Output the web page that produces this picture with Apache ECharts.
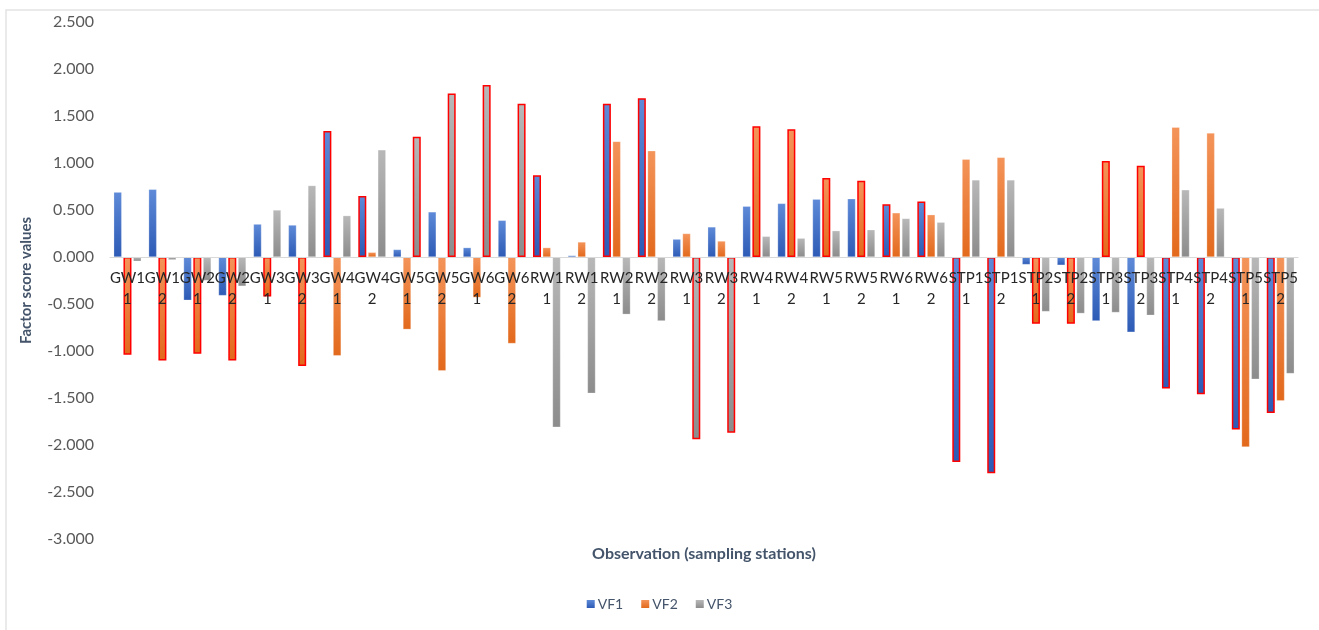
<!DOCTYPE html>
<html>
<head>
<meta charset="utf-8">
<script src="https://cdn.jsdelivr.net/npm/echarts@6/dist/echarts.min.js"></script>
<style>
  html, body { margin: 0; padding: 0; background: #fff; }
  #chart { width: 1319px; height: 630px; }
</style>
</head>
<body>
<div id="chart"></div>
<script>
// Sampling stations (station + campaign)
const categories = [
  'GW1 1', 'GW1 2', 'GW2 1', 'GW2 2', 'GW3 1', 'GW3 2', 'GW4 1', 'GW4 2',
  'GW5 1', 'GW5 2', 'GW6 1', 'GW6 2', 'RW1 1', 'RW1 2', 'RW2 1', 'RW2 2',
  'RW3 1', 'RW3 2', 'RW4 1', 'RW4 2', 'RW5 1', 'RW5 2', 'RW6 1', 'RW6 2',
  'STP1 1', 'STP1 2', 'STP2 1', 'STP2 2', 'STP3 1', 'STP3 2', 'STP4 1', 'STP4 2',
  'STP5 1', 'STP5 2'
];

// Varifactor scores
const vf1 = [0.69, 0.72, -0.46, -0.41, 0.35, 0.34, 1.34, 0.65, 0.08, 0.48, 0.10, 0.39,
  0.87, 0.016, 1.63, 1.69, 0.19, 0.32, 0.54, 0.57, 0.615, 0.62, 0.56, 0.59,
  -2.18, -2.30, -0.08, -0.087, -0.68, -0.80, -1.40, -1.46, -1.835, -1.66];
const vf2 = [-1.04, -1.10, -1.03, -1.10, -0.42, -1.16, -1.05, 0.05, -0.77, -1.21, -0.43, -0.92,
  0.10, 0.16, 1.23, 1.13, 0.25, 0.17, 1.39, 1.36, 0.84, 0.81, 0.47, 0.45,
  1.04, 1.06, -0.71, -0.71, 1.02, 0.97, 1.38, 1.32, -2.02, -1.53];
const vf3 = [-0.045, -0.03, -0.25, -0.31, 0.50, 0.76, 0.44, 1.14, 1.28, 1.74, 1.83, 1.63,
  -1.81, -1.45, -0.61, -0.68, -1.94, -1.87, 0.22, 0.20, 0.28, 0.29, 0.41, 0.37,
  0.82, 0.82, -0.58, -0.60, -0.59, -0.62, 0.715, 0.52, -1.30, -1.24];

// Stations whose score is outlined in red for each factor
const marked1 = ['GW4 1', 'GW4 2', 'RW1 1', 'RW2 1', 'RW2 2', 'RW6 1', 'RW6 2',
  'STP1 1', 'STP1 2', 'STP4 1', 'STP4 2', 'STP5 1', 'STP5 2'];
const marked2 = ['GW1 1', 'GW1 2', 'GW2 1', 'GW2 2', 'GW3 1', 'GW3 2', 'RW4 1', 'RW4 2',
  'RW5 1', 'RW5 2', 'STP2 1', 'STP2 2', 'STP3 1', 'STP3 2'];
const marked3 = ['GW5 1', 'GW5 2', 'GW6 1', 'GW6 2', 'RW3 1', 'RW3 2'];

const seriesNames = ['VF1', 'VF2', 'VF3'];

const Y_MIN = -3, Y_MAX = 2.5, Y_STEP = 0.5;
const GRID_TOP = 22, GRID_BOTTOM = 91, CHART_H = 630;

const grad = (top, bottom) => new echarts.graphic.LinearGradient(0, 0, 0, 1, [
  { offset: 0, color: top }, { offset: 1, color: bottom }
]);

function buildData(values, marked) {
  return values.map((v, i) => {
    if (marked.indexOf(categories[i]) >= 0) {
      return { value: v, itemStyle: { borderColor: '#FF0000', borderWidth: 1.5 } };
    }
    return { value: v, itemStyle: { borderColor: 'rgba(255,255,255,0.5)', borderWidth: 0.5 } };
  });
}

// Lift the category axis from the grid bottom up to the zero line
const plotH = CHART_H - GRID_TOP - GRID_BOTTOM;
const zeroLift = -plotH * (0 - Y_MIN) / (Y_MAX - Y_MIN);

const chart = echarts.init(document.getElementById('chart'));
const textFont = 'Lato, "Open Sans", sans-serif';

chart.setOption({
  animation: false,
  textStyle: { fontFamily: textFont },
  graphic: [{
    type: 'rect',
    shape: { x: 6, y: 10, width: 1400, height: 700 },
    style: { fill: 'none', stroke: '#E3E3E3', lineWidth: 1.5 },
    silent: true, z: -10
  }],
  grid: { left: 110, right: 21, top: GRID_TOP, bottom: GRID_BOTTOM, containLabel: false, outerBoundsMode: 'none' },
  legend: {
    bottom: 14,
    left: 'center',
    itemWidth: 8,
    itemHeight: 8,
    itemGap: 18,
    icon: 'rect',
    textStyle: { color: '#44546A', fontSize: 14, fontFamily: textFont, padding: [0, 0, 0, -2] },
    data: seriesNames
  },
  xAxis: {
    type: 'category',
    data: categories,
    position: 'bottom',
    offset: zeroLift,
    z: 10,
    name: 'Observation (sampling stations)',
    nameLocation: 'middle',
    nameGap: 289,
    nameTextStyle: { color: '#44546A', fontSize: 16, fontWeight: 'bold', fontFamily: textFont },
    axisLine: { onZero: false, lineStyle: { color: '#D9D9D9', width: 1.2 } },
    axisTick: { show: false },
    axisLabel: {
      interval: 0,
      margin: 11,
      color: '#262626',
      fontSize: 15,
      lineHeight: 21,
      fontFamily: textFont,
      hideOverlap: false,
      formatter: v => v.replace(' ', '\n')
    },
    splitLine: { show: false }
  },
  yAxis: {
    type: 'value',
    min: Y_MIN,
    max: Y_MAX,
    interval: Y_STEP,
    name: 'Factor score values',
    nameLocation: 'middle',
    nameGap: 76,
    nameTextStyle: { color: '#44546A', fontSize: 15, fontWeight: 'bold', fontFamily: textFont },
    axisLine: { show: false },
    axisTick: { show: false },
    splitLine: { show: false },
    axisLabel: {
      color: '#595959',
      fontSize: 16,
      margin: 16,
      fontFamily: textFont,
      formatter: v => v.toFixed(3)
    }
  },
  series: [
    {
      name: 'VF1', type: 'bar', barWidth: 8, barGap: '22%',
      itemStyle: { color: grad('#5E8AD8', '#2D5AB5') },
      data: buildData(vf1, marked1)
    },
    {
      name: 'VF2', type: 'bar', barWidth: 8, barGap: '22%',
      itemStyle: { color: grad('#F4945A', '#E2691C') },
      data: buildData(vf2, marked2)
    },
    {
      name: 'VF3', type: 'bar', barWidth: 8, barGap: '22%',
      itemStyle: { color: grad('#B8B8B8', '#8C8C8C') },
      data: buildData(vf3, marked3)
    }
  ]
});
</script>
</body>
</html>
